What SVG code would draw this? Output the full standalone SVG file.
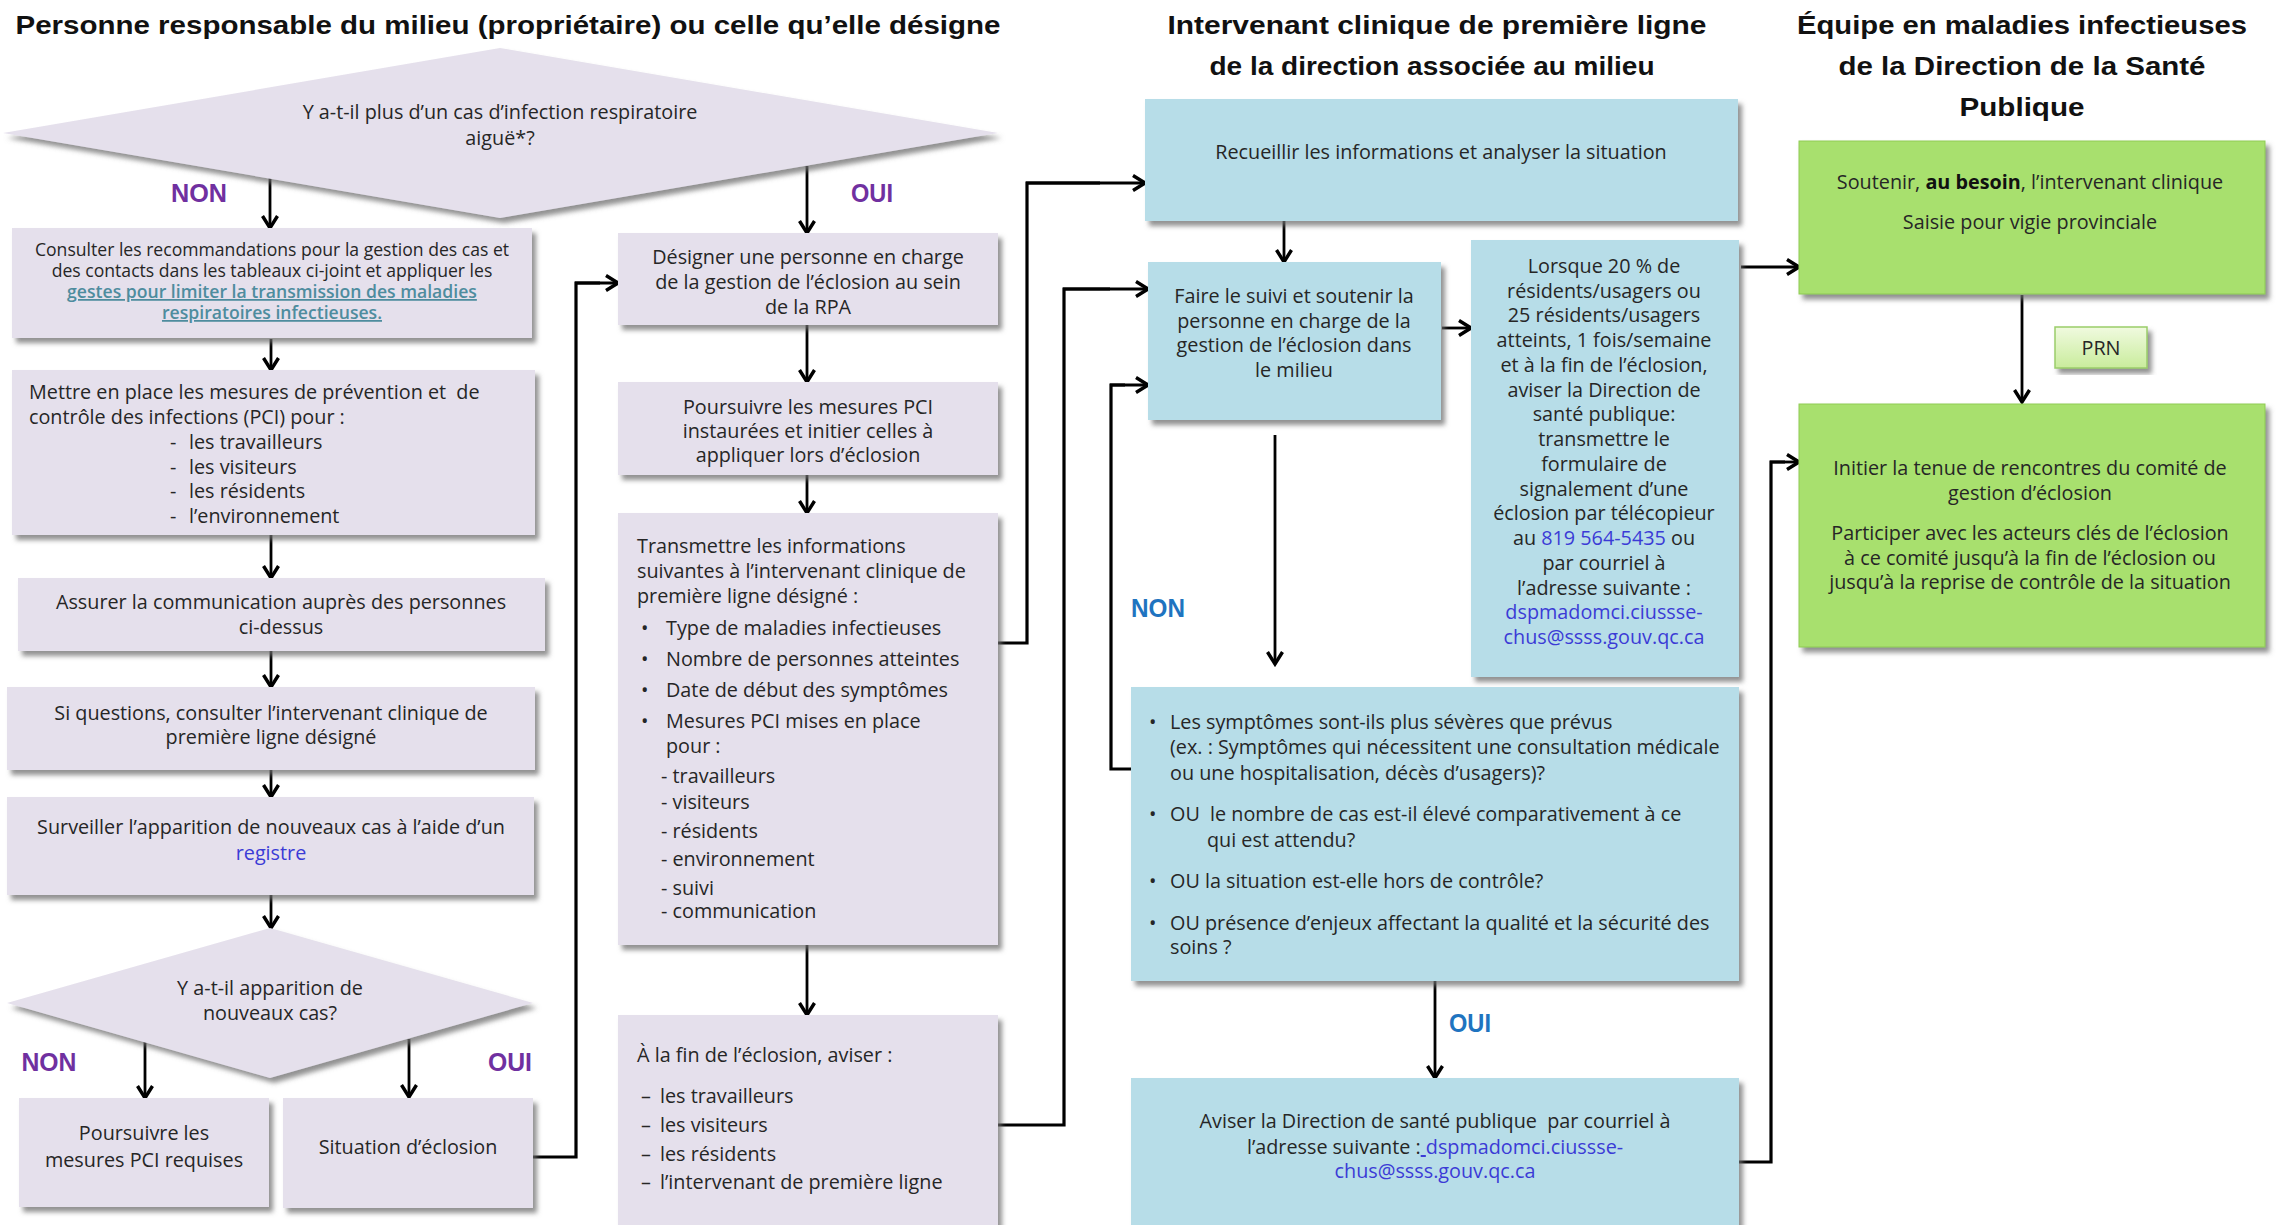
<svg xmlns="http://www.w3.org/2000/svg" width="2279" height="1225" viewBox="0 0 2279 1225">
<defs>
<filter id="sh" x="-5%" y="-5%" width="115%" height="120%">
<feDropShadow dx="4" dy="5" stdDeviation="2.5" flood-color="#6d6d6d" flood-opacity="0.75"/>
</filter>
<marker id="ah" markerUnits="userSpaceOnUse" markerWidth="18" markerHeight="20" viewBox="0 0 18 20" refX="15" refY="10" orient="auto">
<path d="M3,2.5 L15,10 L3,17.5" fill="none" stroke="#000" stroke-width="3.4"/>
</marker>
<linearGradient id="prn" x1="0" y1="0" x2="0" y2="1">
<stop offset="0" stop-color="#F0FADF"/>
<stop offset="1" stop-color="#C9EC9C"/>
</linearGradient>
</defs>
<style>
.lav{fill:#E5E0EC}
.blu{fill:#B7DDE8}
.grn{fill:#A8E06E;stroke:#8FCB55;stroke-width:1}
.t{font-family:"Open Sans","Liberation Sans",Arial,sans-serif;font-size:19.8px;fill:#262626}
.s{font-size:17.6px}
.c{text-anchor:middle}
.h{font-family:"Liberation Sans",Arial,sans-serif;font-weight:bold;font-size:26px;fill:#111;text-anchor:middle}
.lbp{font-family:"Liberation Sans",Arial,sans-serif;font-weight:bold;font-size:25px;fill:#7030A0;text-anchor:middle}
.lbb{font-family:"Liberation Sans",Arial,sans-serif;font-weight:bold;font-size:25px;fill:#1F74C0;text-anchor:middle}
.lnk{fill:#4E8C9E;text-decoration:underline;font-weight:600}
.bl{fill:#3B3BD6}
.con{fill:none;stroke:#000;stroke-width:3.2}
.arr{fill:none;stroke:#000;stroke-width:2.8;marker-end:url(#ah)}
</style>

<g id="titles">
<text class="h" x="508" y="34" textLength="985" lengthAdjust="spacingAndGlyphs">Personne responsable du milieu (propriétaire) ou celle qu’elle désigne</text>
<text class="h" x="1437" y="34" textLength="539" lengthAdjust="spacingAndGlyphs">Intervenant clinique de première ligne</text>
<text class="h" x="1432" y="75" textLength="445" lengthAdjust="spacingAndGlyphs">de la direction associée au milieu</text>
<text class="h" x="2022" y="34" textLength="450" lengthAdjust="spacingAndGlyphs">Équipe en maladies infectieuses</text>
<text class="h" x="2022" y="75" textLength="367" lengthAdjust="spacingAndGlyphs">de la Direction de la Santé</text>
<text class="h" x="2022" y="116" textLength="125" lengthAdjust="spacingAndGlyphs">Publique</text>
</g>

<g id="connectors">
<line class="arr" x1="270" y1="178" x2="270" y2="228"/>
<line class="arr" x1="807" y1="166" x2="807" y2="233"/>
<line class="arr" x1="271" y1="339" x2="271" y2="370"/>
<line class="arr" x1="271" y1="535" x2="271" y2="578"/>
<line class="arr" x1="271" y1="651" x2="271" y2="687"/>
<line class="arr" x1="271" y1="770" x2="271" y2="797"/>
<line class="arr" x1="271" y1="895" x2="271" y2="928"/>
<line class="arr" x1="145" y1="1042" x2="145" y2="1098"/>
<line class="arr" x1="409" y1="1039" x2="409" y2="1097"/>
<polyline class="con" points="533,1157 576,1157 576,283 600,283"/>
<line class="arr" x1="575" y1="283" x2="618" y2="283"/>
<line class="arr" x1="807" y1="325" x2="807" y2="382"/>
<line class="arr" x1="807" y1="475" x2="807" y2="513"/>
<line class="arr" x1="807" y1="945" x2="807" y2="1015"/>
<polyline class="con" points="998,643 1027,643 1027,183 1100,183"/>
<line class="arr" x1="1026" y1="183" x2="1145" y2="183"/>
<polyline class="con" points="998,1125 1064,1125 1064,289 1110,289"/>
<line class="arr" x1="1063" y1="289" x2="1148" y2="289"/>
<line class="arr" x1="1284" y1="221" x2="1284" y2="262"/>
<line class="arr" x1="1442" y1="328" x2="1471" y2="328"/>
<line class="arr" x1="1275" y1="435" x2="1275" y2="664"/>
<polyline class="con" points="1131,769 1111,769 1111,385 1125,385"/>
<line class="arr" x1="1110" y1="385" x2="1148" y2="385"/>
<line class="arr" x1="1741" y1="267" x2="1799" y2="267"/>
<line class="arr" x1="2022" y1="295" x2="2022" y2="402"/>
<line class="arr" x1="1435" y1="981" x2="1435" y2="1078"/>
<polyline class="con" points="1739,1162 1771,1162 1771,462 1785,462"/>
<line class="arr" x1="1770" y1="462" x2="1799" y2="462"/>
</g>

<g id="labels">
<text class="lbp" x="199" y="202" textLength="56" lengthAdjust="spacingAndGlyphs">NON</text>
<text class="lbp" x="872" y="202" textLength="42" lengthAdjust="spacingAndGlyphs">OUI</text>
<text class="lbp" x="49" y="1071" textLength="55" lengthAdjust="spacingAndGlyphs">NON</text>
<text class="lbp" x="510" y="1071" textLength="44" lengthAdjust="spacingAndGlyphs">OUI</text>
<text class="lbb" x="1158" y="617" textLength="54" lengthAdjust="spacingAndGlyphs">NON</text>
<text class="lbb" x="1470" y="1032" textLength="42" lengthAdjust="spacingAndGlyphs">OUI</text>
</g>

<g id="q1">
<polygon class="lav" filter="url(#sh)" points="3,133 500,48 998,133 500,218"/>
<text class="t c" x="500" y="119">Y a-t-il plus d’un cas d’infection respiratoire</text>
<text class="t c" x="500" y="145">aiguë*?</text>
</g>

<g id="consulter">
<rect class="lav" filter="url(#sh)" x="12" y="228" width="520" height="110"/>
<text class="t s c" x="272" y="256">Consulter les recommandations pour la gestion des cas et</text>
<text class="t s c" x="272" y="277">des contacts dans les tableaux ci-joint et appliquer les</text>
<text class="t s c lnk" x="272" y="298">gestes pour limiter la transmission des maladies</text>
<text class="t s c lnk" x="272" y="319">respiratoires infectieuses.</text>
</g>

<g id="mettre">
<rect class="lav" filter="url(#sh)" x="12" y="370" width="523" height="165"/>
<text class="t" x="29" y="399">Mettre en place les mesures de prévention et&#160; de</text>
<text class="t" x="29" y="424">contrôle des infections (PCI) pour :</text>
<text class="t" x="170" y="449">-</text><text class="t" x="189" y="449">les travailleurs</text>
<text class="t" x="170" y="474">-</text><text class="t" x="189" y="474">les visiteurs</text>
<text class="t" x="170" y="498">-</text><text class="t" x="189" y="498">les résidents</text>
<text class="t" x="170" y="523">-</text><text class="t" x="189" y="523">l’environnement</text>
</g>

<g id="assurer">
<rect class="lav" filter="url(#sh)" x="18" y="578" width="527" height="73"/>
<text class="t c" x="281" y="609">Assurer la communication auprès des personnes</text>
<text class="t c" x="281" y="634">ci-dessus</text>
</g>

<g id="questions">
<rect class="lav" filter="url(#sh)" x="7" y="687" width="528" height="83"/>
<text class="t c" x="271" y="720">Si questions, consulter l’intervenant clinique de</text>
<text class="t c" x="271" y="744">première ligne désigné</text>
</g>

<g id="surveiller">
<rect class="lav" filter="url(#sh)" x="7" y="797" width="527" height="98"/>
<text class="t c" x="271" y="834">Surveiller l’apparition de nouveaux cas à l’aide d’un</text>
<text class="t c bl" x="271" y="860">registre</text>
</g>

<g id="q2">
<polygon class="lav" filter="url(#sh)" points="270,928 533,1003 270,1078 7,1003"/>
<text class="t c" x="270" y="995">Y a-t-il apparition de</text>
<text class="t c" x="270" y="1020">nouveaux cas?</text>
</g>

<g id="poursuivre-requises">
<rect class="lav" filter="url(#sh)" x="19" y="1098" width="250" height="109"/>
<text class="t c" x="144" y="1140">Poursuivre les</text>
<text class="t c" x="144" y="1167">mesures PCI requises</text>
</g>

<g id="situation">
<rect class="lav" filter="url(#sh)" x="283" y="1098" width="250" height="110"/>
<text class="t c" x="408" y="1154">Situation d’éclosion</text>
</g>

<g id="designer">
<rect class="lav" filter="url(#sh)" x="618" y="233" width="380" height="92"/>
<text class="t c" x="808" y="264">Désigner une personne en charge</text>
<text class="t c" x="808" y="289">de la gestion de l’éclosion au sein</text>
<text class="t c" x="808" y="314">de la RPA</text>
</g>

<g id="poursuivre-instaurees">
<rect class="lav" filter="url(#sh)" x="618" y="382" width="380" height="93"/>
<text class="t c" x="808" y="414">Poursuivre les mesures PCI</text>
<text class="t c" x="808" y="438">instaurées et initier celles à</text>
<text class="t c" x="808" y="462">appliquer lors d’éclosion</text>
</g>

<g id="transmettre">
<rect class="lav" filter="url(#sh)" x="618" y="513" width="380" height="432"/>
<text class="t" x="637" y="553">Transmettre les informations</text>
<text class="t" x="637" y="578">suivantes à l’intervenant clinique de</text>
<text class="t" x="637" y="603">première ligne désigné :</text>
<text class="t" x="641" y="635">•</text><text class="t" x="666" y="635">Type de maladies infectieuses</text>
<text class="t" x="641" y="666">•</text><text class="t" x="666" y="666">Nombre de personnes atteintes</text>
<text class="t" x="641" y="697">•</text><text class="t" x="666" y="697">Date de début des symptômes</text>
<text class="t" x="641" y="728">•</text><text class="t" x="666" y="728">Mesures PCI mises en place</text>
<text class="t" x="666" y="753">pour :</text>
<text class="t" x="661" y="783">- travailleurs</text>
<text class="t" x="661" y="809">- visiteurs</text>
<text class="t" x="661" y="838">- résidents</text>
<text class="t" x="661" y="866">- environnement</text>
<text class="t" x="661" y="895">- suivi</text>
<text class="t" x="661" y="918">- communication</text>
</g>

<g id="fin">
<rect class="lav" filter="url(#sh)" x="618" y="1015" width="380" height="220"/>
<text class="t" x="637" y="1062">À la fin de l’éclosion, aviser :</text>
<text class="t" x="641" y="1103">–</text><text class="t" x="660" y="1103">les travailleurs</text>
<text class="t" x="641" y="1132">–</text><text class="t" x="660" y="1132">les visiteurs</text>
<text class="t" x="641" y="1161">–</text><text class="t" x="660" y="1161">les résidents</text>
<text class="t" x="641" y="1189">–</text><text class="t" x="660" y="1189">l’intervenant de première ligne</text>
</g>

<g id="recueillir">
<rect class="blu" filter="url(#sh)" x="1145" y="99" width="593" height="122"/>
<text class="t c" x="1441" y="159">Recueillir les informations et analyser la situation</text>
</g>

<g id="suivi">
<rect class="blu" filter="url(#sh)" x="1148" y="262" width="293" height="158"/>
<text class="t c" x="1294" y="303">Faire le suivi et soutenir la</text>
<text class="t c" x="1294" y="328">personne en charge de la</text>
<text class="t c" x="1294" y="352">gestion de l’éclosion dans</text>
<text class="t c" x="1294" y="377">le milieu</text>
</g>

<g id="lorsque">
<rect class="blu" filter="url(#sh)" x="1471" y="240" width="268" height="437"/>
<text class="t c" x="1604" y="273">Lorsque 20 % de</text>
<text class="t c" x="1604" y="298">résidents/usagers ou</text>
<text class="t c" x="1604" y="322">25 résidents/usagers</text>
<text class="t c" x="1604" y="347">atteints, 1 fois/semaine</text>
<text class="t c" x="1604" y="372">et à la fin de l’éclosion,</text>
<text class="t c" x="1604" y="397">aviser la Direction de</text>
<text class="t c" x="1604" y="421">santé publique:</text>
<text class="t c" x="1604" y="446">transmettre le</text>
<text class="t c" x="1604" y="471">formulaire de</text>
<text class="t c" x="1604" y="496">signalement d’une</text>
<text class="t c" x="1604" y="520">éclosion par télécopieur</text>
<text class="t c" x="1604" y="545">au <tspan class="bl">819 564-5435</tspan> ou</text>
<text class="t c" x="1604" y="570">par courriel à</text>
<text class="t c" x="1604" y="595">l’adresse suivante :</text>
<text class="t c bl" x="1604" y="619">dspmadomci.ciussse-</text>
<text class="t c bl" x="1604" y="644">chus@ssss.gouv.qc.ca</text>
</g>

<g id="symptomes">
<rect class="blu" filter="url(#sh)" x="1131" y="687" width="608" height="294"/>
<text class="t" x="1149" y="729">•</text><text class="t" x="1170" y="729">Les symptômes sont-ils plus sévères que prévus</text>
<text class="t" x="1170" y="754">(ex. : Symptômes qui nécessitent une consultation médicale</text>
<text class="t" x="1170" y="780">ou une hospitalisation, décès d’usagers)?</text>
<text class="t" x="1149" y="821">•</text><text class="t" x="1170" y="821">OU&#160; le nombre de cas est-il élevé comparativement à ce</text>
<text class="t" x="1207" y="847">qui est attendu?</text>
<text class="t" x="1149" y="888">•</text><text class="t" x="1170" y="888">OU la situation est-elle hors de contrôle?</text>
<text class="t" x="1149" y="930">•</text><text class="t" x="1170" y="930">OU présence d’enjeux affectant la qualité et la sécurité des</text>
<text class="t" x="1170" y="954">soins ?</text>
</g>

<g id="aviser">
<rect class="blu" filter="url(#sh)" x="1131" y="1078" width="608" height="160"/>
<text class="t c" x="1435" y="1128">Aviser la Direction de santé publique&#160; par courriel à</text>
<text class="t c" x="1435" y="1154">l’adresse suivante :<tspan class="bl" text-decoration="underline">&#160;</tspan><tspan class="bl">dspmadomci.ciussse-</tspan></text>
<text class="t c bl" x="1435" y="1178">chus@ssss.gouv.qc.ca</text>
</g>

<g id="soutenir">
<rect class="grn" filter="url(#sh)" x="1799" y="141" width="466" height="153"/>
<text class="t c" x="2030" y="189">Soutenir, <tspan font-weight="bold" fill="#111">au besoin</tspan>, l’intervenant clinique</text>
<text class="t c" x="2030" y="229">Saisie pour vigie provinciale</text>
</g>

<g id="prn">
<rect filter="url(#sh)" x="2055" y="327" width="92" height="41" fill="url(#prn)" stroke="#9ACD6A" stroke-width="1.5"/>
<text class="t c" x="2101" y="355">PRN</text>
</g>

<g id="initier">
<rect class="grn" filter="url(#sh)" x="1799" y="404" width="466" height="243"/>
<text class="t c" x="2030" y="475">Initier la tenue de rencontres du comité de</text>
<text class="t c" x="2030" y="500">gestion d’éclosion</text>
<text class="t c" x="2030" y="540">Participer avec les acteurs clés de l’éclosion</text>
<text class="t c" x="2030" y="565">à ce comité jusqu’à la fin de l’éclosion ou</text>
<text class="t c" x="2030" y="589">jusqu’à la reprise de contrôle de la situation</text>
</g>
</svg>
